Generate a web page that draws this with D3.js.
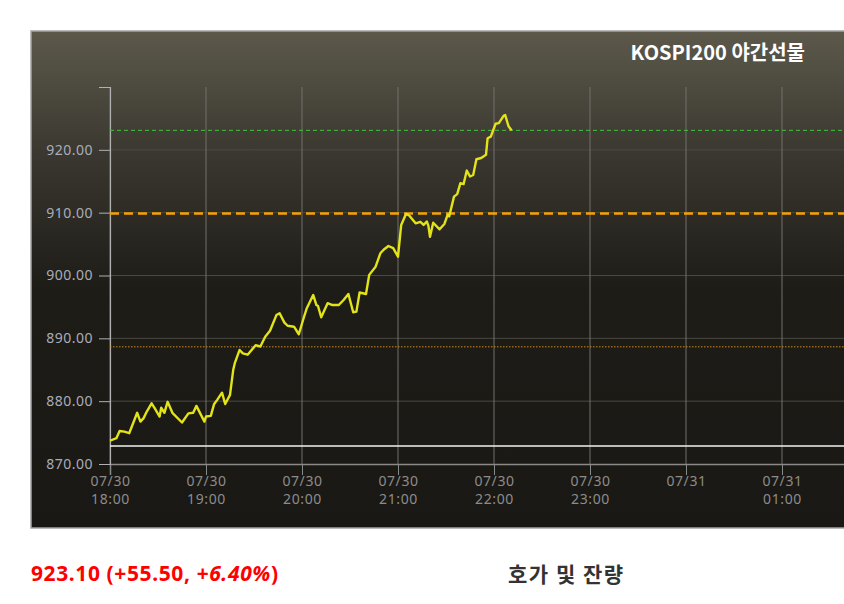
<!DOCTYPE html>
<html><head><meta charset="utf-8">
<title>KOSPI200 야간선물</title>
<style>
    body { margin: 0; background: #fff; }
    svg { display: block; }
    .tick text { font-family: 'Noto Sans', sans-serif; }
</style>
</head>
<body>
<svg id="chart" width="844" height="604"></svg>
<script src="https://cdnjs.cloudflare.com/ajax/libs/d3/7.8.5/d3.min.js"></script>
<script>
// price series, 07/30 night session
const times = ["18:00","18:04","18:06","18:09","18:12","18:17","18:19","18:21","18:23","18:26",
    "18:28","18:31","18:32","18:34","18:36","18:39","18:45","18:49","18:52","18:54",
    "18:59","19:00","19:03","19:05","19:07","19:10","19:12","19:15","19:17","19:18",
    "19:21","19:23","19:26","19:31","19:34","19:37","19:40","19:44","19:46","19:49",
    "19:51","19:55","19:58","20:01","20:03","20:07","20:09","20:10","20:12","20:16",
    "20:19","20:23","20:26","20:29","20:32","20:34","20:36","20:40","20:42","20:46",
    "20:49","20:51","20:54","20:57","21:00","21:02","21:05","21:07","21:11","21:14",
    "21:16","21:18","21:19","21:20","21:22","21:26","21:29","21:31","21:32","21:35",
    "21:37","21:39","21:41","21:43","21:45","21:47","21:49","21:52","21:55","21:56",
    "21:58","22:01","22:03","22:06","22:07","22:09","22:11"];
const prices = [873.7,874.1,875.25,875.15,874.9,878.15,876.75,877.3,878.35,879.65,
    878.85,877.55,878.95,878.15,879.9,878.15,876.6,878.05,878.15,879.25,
    876.75,877.55,877.65,879.5,880.2,881.35,879.55,881.0,884.95,886.05,
    888.15,887.6,887.4,888.9,888.7,890.25,891.2,893.7,894.0,892.5,
    892.0,891.85,890.65,893.2,894.8,896.9,895.3,895.15,893.35,895.6,
    895.3,895.3,896.1,897.05,894.15,894.25,897.3,897.05,900.1,901.4,
    903.55,904.1,904.7,904.35,903.0,908.05,909.8,909.55,908.3,908.55,
    908.05,908.6,907.9,906.15,908.4,907.35,908.2,909.65,909.4,912.55,
    912.95,914.7,914.55,916.7,915.75,916.0,918.5,918.7,919.2,921.85,
    922.1,924.15,924.25,925.4,925.55,923.8,923.1];

// reference levels
const lastPrice = 923.1;
const upperDash = 909.85;
const lowerDot = 888.65;
const whiteLevel = 872.85;

const yTicks = [870, 880, 890, 900, 910, 920];
const yDomain = [870, 930];
const xTickHours = ["07-30 18:00","07-30 19:00","07-30 20:00","07-30 21:00",
    "07-30 22:00","07-30 23:00","07-31 00:00","07-31 01:00"];

const titleText = "KOSPI200 야간선물";
const quoteMain = "923.10 (+55.50, ";
const quotePct = "+6.40%";
const sideTitle = "호가 및 잔량";

const parse = d3.timeParse("%Y-%m-%d %H:%M");
const data = times.map((t, i) => ({ t: parse("2024-07-30 " + t), v: prices[i] }));
const xTicks = xTickHours.map(s => parse("2024-" + s));

const svg = d3.select("#chart");
const plotLeft = 110, plotTop = 87, plotBottom = 464, plotRight = 878;

const x = d3.scaleTime()
    .domain([parse("2024-07-30 18:00"), parse("2024-07-31 02:00")])
    .range([plotLeft, plotRight]);
const y = d3.scaleLinear().domain(yDomain).range([plotBottom, plotTop]);

// panel background
const defs = svg.append("defs");
const grad = defs.append("linearGradient").attr("id", "bg")
    .attr("x1", 0).attr("y1", 0).attr("x2", 0).attr("y2", 1);
grad.append("stop").attr("offset", "0%").attr("stop-color", "#5c594b");
grad.append("stop").attr("offset", "25%").attr("stop-color", "#3a3730");
grad.append("stop").attr("offset", "52%").attr("stop-color", "#1e1c17");
grad.append("stop").attr("offset", "100%").attr("stop-color", "#1a1814");

svg.append("rect")
    .attr("x", 31).attr("y", 31).attr("width", 840).attr("height", 497)
    .attr("fill", "url(#bg)")
    .attr("stroke", "#a5a5a5").attr("stroke-width", 1.5);

// grid
svg.append("g").selectAll("line").data(yTicks.slice(1)).join("line")
    .attr("x1", plotLeft).attr("x2", 844)
    .attr("y1", d => y(d)).attr("y2", d => y(d))
    .attr("stroke", "#4a4944").attr("stroke-width", 1);

svg.append("g").selectAll("line").data(xTicks).join("line")
    .attr("x1", d => x(d)).attr("x2", d => x(d))
    .attr("y1", plotTop).attr("y2", plotBottom)
    .attr("stroke", "#72716c").attr("stroke-width", 1);

// x axis
const xAxis = svg.append("g")
    .attr("transform", `translate(0,${plotBottom})`)
    .call(d3.axisBottom(x).tickValues(xTicks).tickSize(11).tickFormat(""));
xAxis.select(".domain").attr("stroke", "#8a8a88").attr("stroke-width", 1.5);
xAxis.selectAll(".tick line").attr("stroke", "#8a8a88");
const fmtDate = d3.timeFormat("%m/%d"), fmtHour = d3.timeFormat("%H:%M");
xAxis.selectAll(".tick").append("text")
    .attr("fill", "#8c8c8c")
    .attr("font-size", 14)
    .attr("letter-spacing", "0.6px")
    .attr("text-anchor", "middle")
    .each(function(d) {
        const t = d3.select(this);
        t.append("tspan").attr("x", 0).attr("y", 22).text(fmtDate(d));
        if (d.getHours() !== 0)
            t.append("tspan").attr("x", 0).attr("y", 40).text(fmtHour(d));
    });

// y axis
const yAxis = svg.append("g")
    .attr("transform", `translate(${plotLeft},0)`)
    .call(d3.axisLeft(y).tickValues(yTicks).tickSize(11).tickPadding(6)
        .tickFormat(d3.format(".2f")));
yAxis.select(".domain").attr("stroke", "#b0b0b0").attr("stroke-width", 1.2);
yAxis.selectAll(".tick line").attr("stroke", "#b0b0b0");
yAxis.selectAll(".tick text")
    .attr("fill", "#a9adba").attr("font-size", 14).attr("letter-spacing", "0.5px");

// reference lines
function hline(v, color, width, dash) {
    svg.append("line")
        .attr("x1", plotLeft).attr("x2", 844)
        .attr("y1", y(v)).attr("y2", y(v))
        .attr("stroke", color).attr("stroke-width", width)
        .attr("stroke-dasharray", dash);
}
hline(whiteLevel, "#f2f2f2", 1.5, null);
hline(lowerDot, "#d18a1c", 1, "1.5,1.5");
hline(upperDash, "#f5a300", 2.5, "9,5");
hline(lastPrice, "#3fc43a", 1, "4,3");

// price line
svg.append("path")
    .datum(data)
    .attr("fill", "none")
    .attr("stroke", "#e3e31a")
    .attr("stroke-width", 2.4)
    .attr("stroke-linejoin", "round")
    .attr("d", d3.line().x(d => x(d.t)).y(d => y(d.v)));

// title
svg.append("text")
    .attr("x", 805).attr("y", 60)
    .attr("text-anchor", "end")
    .attr("fill", "#ffffff")
    .attr("font-family", "'Noto Sans CJK KR', sans-serif")
    .attr("font-weight", "bold")
    .attr("font-size", 20)
    .text(titleText);

// quote below chart
const q = svg.append("text")
    .attr("x", 31).attr("y", 581)
    .attr("fill", "#ff0000")
    .attr("font-family", "'Noto Sans', sans-serif")
    .attr("font-weight", "bold")
    .attr("font-size", 21)
    .attr("letter-spacing", "0.6px");
q.append("tspan").text(quoteMain);
q.append("tspan").attr("font-style", "italic").text(quotePct);
q.append("tspan").text(")");

svg.append("text")
    .attr("x", 508).attr("y", 582)
    .attr("fill", "#333333")
    .attr("font-family", "'Noto Sans CJK KR', sans-serif")
    .attr("font-weight", "bold")
    .attr("font-size", 21)
    .attr("letter-spacing", "1.5px")
    .text(sideTitle);
</script>
</body>
</html>
